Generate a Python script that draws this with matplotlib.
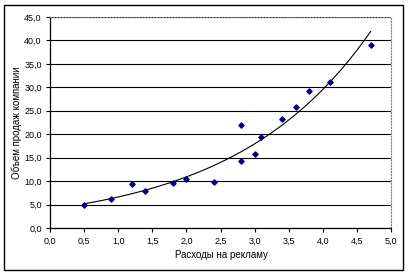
import numpy as np
import matplotlib
matplotlib.use("Agg")
import matplotlib.pyplot as plt
from matplotlib.patches import Rectangle
from matplotlib.ticker import FuncFormatter, MultipleLocator

plt.rcParams["font.family"] = ["Liberation Sans", "DejaVu Sans"]

# advertising spend vs. company sales
spend = [0.5, 0.9, 1.2, 1.4, 1.8, 2.0, 2.4, 2.8, 2.8, 3.0, 3.1, 3.4, 3.6, 3.8, 4.1, 4.7]
sales = [5.0, 6.1, 9.3, 7.9, 9.6, 10.4, 9.8, 14.3, 22.0, 15.8, 19.5, 23.3, 25.7, 29.3, 31.2, 39.0]

X_LABEL = "Расходы на рекламу"
Y_LABEL = "Объем продаж компании"

fig = plt.figure(figsize=(4.09, 2.74), dpi=100)
fig.patch.set_facecolor("white")
fig.patches.append(Rectangle((4 / 409, 4 / 274), 399 / 409, 265 / 274,
                             transform=fig.transFigure, fill=False,
                             edgecolor="black", linewidth=1.0))

ax = fig.add_axes([50 / 409, 1 - 228 / 274, 341 / 409, 211 / 274])

# exponential trend line (least squares on ln y), like Excel
b, ln_a = np.polyfit(spend, np.log(sales), 1)
xs = np.linspace(min(spend), max(spend), 100)
ax.plot(xs, np.exp(ln_a) * np.exp(b * xs), color="black", linewidth=0.8, zorder=3)

ax.scatter(spend, sales, marker="D", s=7, color="#000080", zorder=4)

ax.set_xlim(0, 5)
ax.set_ylim(0, 45)
ax.xaxis.set_major_locator(MultipleLocator(0.5))
ax.yaxis.set_major_locator(MultipleLocator(5))
fmt = FuncFormatter(lambda v, _: f"{v:.1f}".replace(".", ","))
ax.xaxis.set_major_formatter(fmt)
ax.yaxis.set_major_formatter(fmt)
ax.tick_params(direction="out", length=3, width=0.8, labelsize=6.5, pad=3)
ax.grid(axis="y", color="black", linewidth=0.8)
ax.set_axisbelow(True)

for side in ("top", "right"):
    ax.spines[side].set_color("#808080")
    ax.spines[side].set_linestyle(":")
    ax.spines[side].set_linewidth(0.8)
for side in ("left", "bottom"):
    ax.spines[side].set_linewidth(0.9)

ax.set_xlabel(X_LABEL, fontsize=7, va="center")
ax.set_ylabel(Y_LABEL, fontsize=7, va="center")
ax.xaxis.set_label_coords(0.5 + (221 - 220.5) / 341, -27 / 211)
ax.yaxis.set_label_coords(-33 / 341, 0.5)

fig.savefig("out.png", dpi=100)
